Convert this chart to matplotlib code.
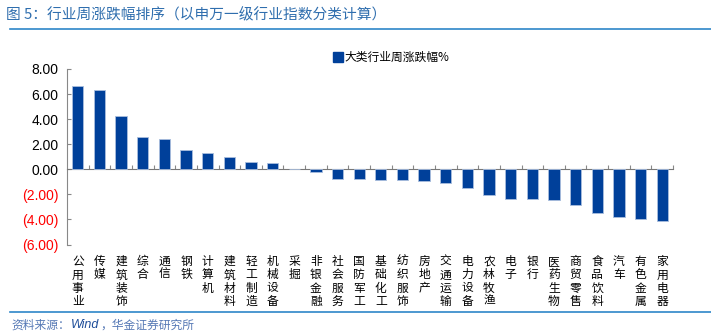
import matplotlib
matplotlib.use("Agg")
import matplotlib.pyplot as plt
from matplotlib.ticker import FixedLocator, FuncFormatter
from matplotlib.lines import Line2D

plt.rcParams['font.family'] = ['Noto Sans CJK SC', 'DejaVu Sans']

categories = ["公用事业", "传媒", "建筑装饰", "综合", "通信", "钢铁", "计算机", "建筑材料",
              "轻工制造", "机械设备", "采掘", "非银金融", "社会服务", "国防军工", "基础化工",
              "纺织服饰", "房地产", "交通运输", "电力设备", "农林牧渔", "电子", "银行",
              "医药生物", "商贸零售", "食品饮料", "汽车", "有色金属", "家用电器"]
values = [6.62, 6.35, 4.22, 2.60, 2.38, 1.50, 1.26, 0.98, 0.55, 0.47, 0.0, -0.18,
          -0.75, -0.77, -0.84, -0.84, -0.90, -1.08, -1.53, -2.08, -2.35, -2.40,
          -2.48, -2.88, -3.52, -3.78, -3.98, -4.16]
yticks = [8, 6, 4, 2, 0, -2, -4, -6]
series_name = "大类行业周涨跌幅%"
title = "图 5：行业周涨跌幅排序（以申万一级行业指数分类计算）"
source_parts = ["资料来源：", "Wind", "，华金证券研究所"]

W, H = 711, 335
fig = plt.figure(figsize=(W / 100, H / 100), dpi=100)
ax = fig.add_axes([67 / W, 1 - 244.5 / H, (673 - 67) / W, (244.5 - 69) / H])

bar_color = "#00409A"
x = list(range(len(categories)))
ax.bar(x, values, width=0.52, color=bar_color, edgecolor="#A9BEDD", linewidth=0.6, zorder=3)

ax.set_ylim(-6, 8)
ax.set_xlim(-0.5, len(categories) - 0.5)
ax.set_yticks(yticks)

def fmt(v, pos):
    if v < 0:
        return "({:.2f})".format(-v)
    return "{:.2f}".format(v)
ax.yaxis.set_major_formatter(FuncFormatter(fmt))
ax.tick_params(axis='y', direction='in', length=3, color='#888888', labelsize=10, pad=6)
for lbl, v in zip(ax.get_yticklabels(), yticks):
    lbl.set_color('red' if v < 0 else 'black')
    lbl.set_family(['Liberation Sans', 'DejaVu Sans'])

for s in ['top', 'right']:
    ax.spines[s].set_visible(False)
ax.spines['left'].set_color('#888888')
ax.spines['left'].set_linewidth(0.8)
ax.spines['bottom'].set_position(('data', 0))
ax.spines['bottom'].set_color('#777777')
ax.spines['bottom'].set_linewidth(0.8)
ax.xaxis.set_major_locator(FixedLocator([i + 0.5 for i in range(len(categories))]))
ax.tick_params(axis='x', direction='in', length=3, color='#888888', labelbottom=False)

for i, c in enumerate(categories):
    ax.text(i, -6.85, "\n".join(c), ha='center', va='top', fontsize=8.5,
            linespacing=1.02, color='black')

leg_handle = Line2D([0], [0], marker='s', color='none', markerfacecolor=bar_color,
                    markeredgecolor=bar_color, markersize=7)
ax.legend([leg_handle], [series_name], loc='upper left', bbox_to_anchor=(329 / W, 1 - 45 / H),
          bbox_transform=fig.transFigure, frameon=False, fontsize=8.5, handlelength=0.6,
          handletextpad=0.2, borderpad=0)

fig.text(6 / W, 1 - 15 / H, title, fontsize=10.6, color='#2F6EAE', va='center', ha='left')
fig.add_artist(Line2D([10 / W, 1.0], [1 - 28.5 / H, 1 - 28.5 / H], color='#2E86C8', linewidth=1.2))
fig.add_artist(Line2D([10 / W, 1.0], [1 - 312 / H, 1 - 312 / H], color='#2E86C8', linewidth=1.2))

fig.canvas.draw()
renderer = fig.canvas.get_renderer()
xpos = 11
colors = ['#5578B5', '#1F4E9A', '#5578B5']
for part, col in zip(source_parts, colors):
    if part == "Wind":
        t = fig.text(xpos / W, 1 - 325 / H, part, fontsize=9, color=col, style='italic',
                     family=['Liberation Sans', 'DejaVu Sans'], va='center', ha='left')
    else:
        t = fig.text(xpos / W, 1 - 325 / H, part, fontsize=8.5, color=col,
                     va='center', ha='left')
    bb = t.get_window_extent(renderer=renderer)
    xpos += bb.width + 1

fig.savefig("out.png", dpi=100)
